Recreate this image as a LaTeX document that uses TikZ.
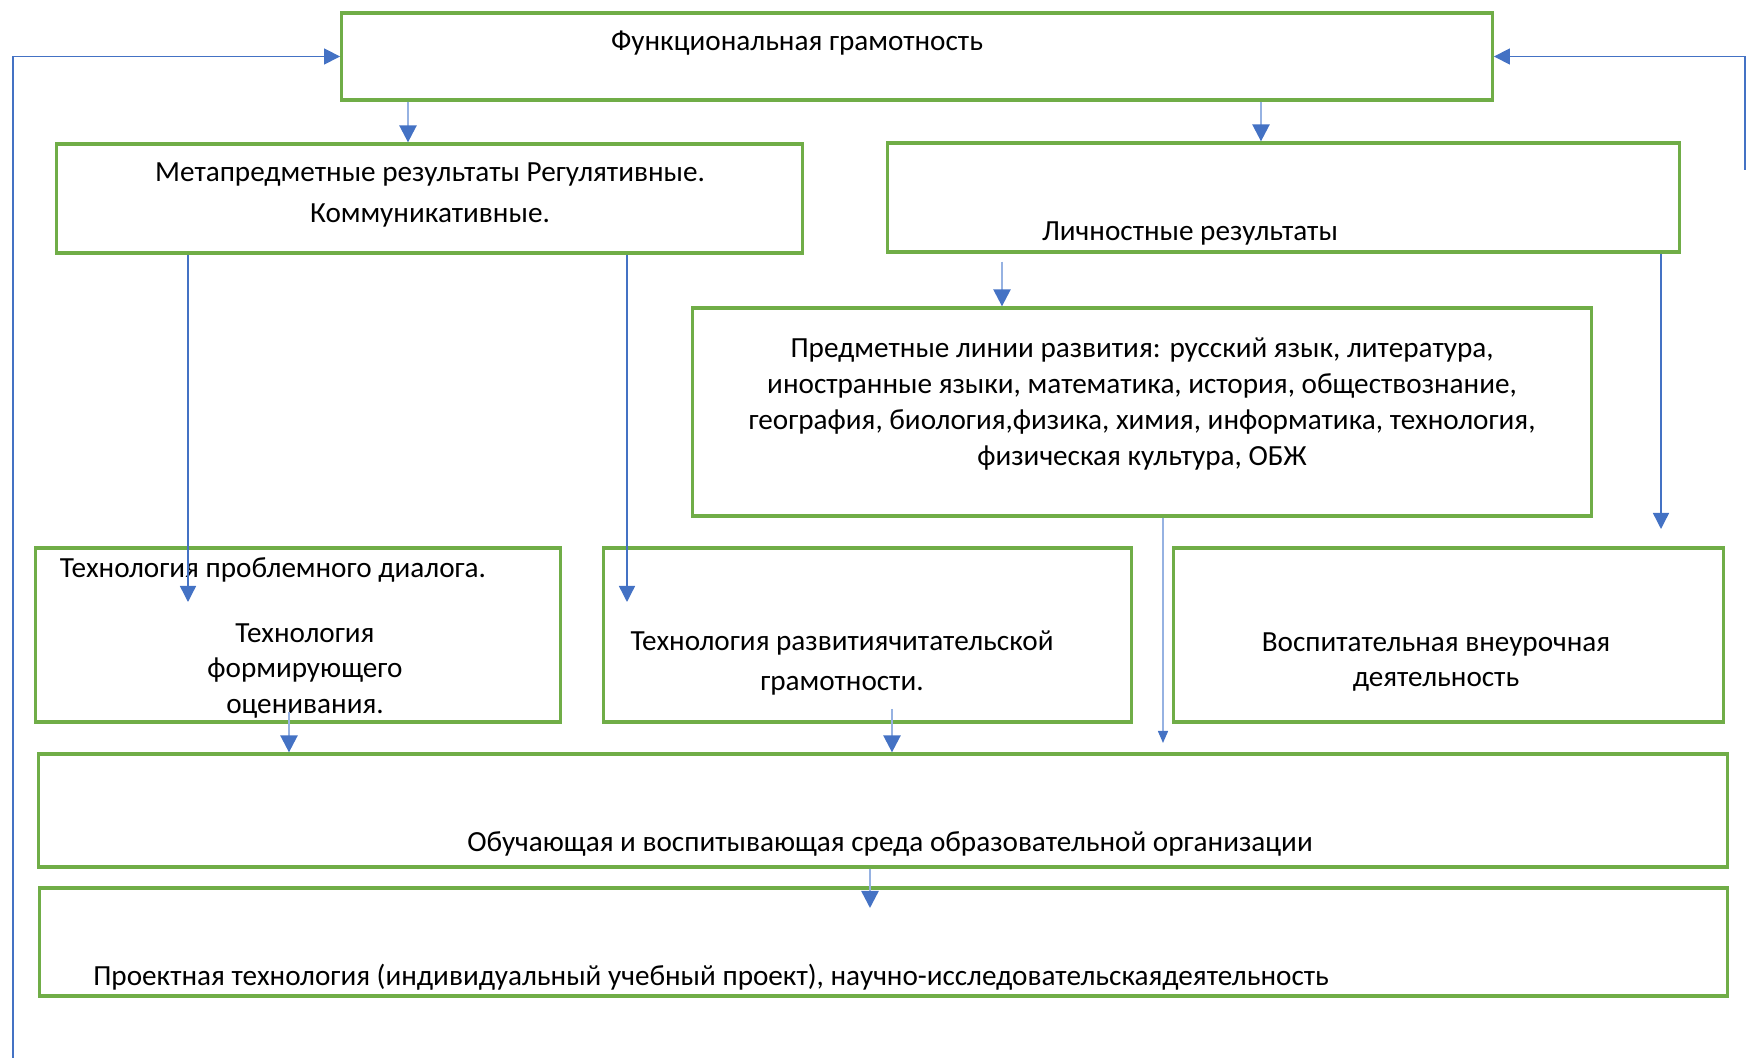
\documentclass[tikz,border=0pt]{standalone}
\usepackage{fontspec}
\setmainfont{Carlito}
\usepackage{xcolor}
\usepackage{tikz}
\usetikzlibrary{positioning, arrows.meta}

\definecolor{boxgreen}{RGB}{112,173,71}
\definecolor{arrowblue}{RGB}{68,114,196}
\definecolor{stemblue}{RGB}{150,178,226}

\tikzset{
  box/.style={draw=boxgreen, line width=0.9pt, inner sep=0pt},
  txt/.style={inner sep=0pt, align=center, font=\fontsize{8.3}{10.2}\selectfont},
  feed/.style={draw=arrowblue, line width=0.4pt, -{Triangle[width=1.6mm, length=1.6mm]}},
  flow/.style={draw=stemblue, line width=0.7pt, -{Triangle[color=arrowblue, width=1.7mm, length=1.7mm]}},
  thinflow/.style={draw=stemblue, line width=0.4pt, -{Triangle[color=arrowblue, width=1.0mm, length=1.2mm]}}
}

\begin{document}
\begin{tikzpicture}[x=0.01cm, y=-0.01cm]
    \useasboundingbox (0,0) rectangle (1747,1058);   % keep the page size
    % boxes
    \node [box, minimum width=11.5cm, minimum height=0.87cm] (top) at (917,56.5) {};
    \node [box, minimum width=7.45cm, minimum height=1.09cm] (meta) at (429.5,198.5) {};
    \node [box, minimum width=7.91cm, minimum height=1.09cm] (lichn) at (1283.5,197.5) {};
    \node [box, minimum width=8.98cm, minimum height=2.08cm] (predmet) at (1142,412) {};
    \node [box, minimum width=5.24cm, minimum height=1.74cm] (tech1) at (298,635) {};
    \node [box, minimum width=5.27cm, minimum height=1.74cm] (tech2) at (867.5,635) {};
    \node [box, minimum width=5.49cm, minimum height=1.74cm] (vosp) at (1448.5,635) {};
    \node [box, minimum width=16.88cm, minimum height=1.13cm] (obuch) at (883,810.5) {};
    \node [box, minimum width=16.87cm, minimum height=1.08cm] (proekt) at (883.5,942) {};
    % texts
    \node [txt] (toptext) at (797,43) {Функциональная грамотность};
    \node [txt] (metatext) at (430,195) {Метапредметные результаты Регулятивные.\\[1.4pt] Коммуникативные.};
    \node [txt] (lichntext) at (1190,233) {Личностные результаты};
    \node [txt] (predmettext) at (1142,404) {Предметные линии развития: русский язык, литература,\\
        иностранные языки, математика, история, обществознание,\\
        география, биология,физика, химия, информатика, технология,\\
        физическая культура, ОБЖ};
    \node [txt] (dialog) at (273,570) {Технология проблемного диалога.};
    \node [txt] (ocenka) at (305,671) {Технология\\ формирующего\\ оценивания.};
    \node [txt] (tech2text) at (842,663) {Технология развитиячитательской\\[1.4pt] грамотности.};
    \node [txt] (vosptext) at (1436,662) {Воспитательная внеурочная\\ деятельность};
    \node [txt] (obuchtext) at (890,844) {Обучающая и воспитывающая среда образовательной организации};
    \node [txt] (proekttext) at (711,977) {Проектная технология (индивидуальный учебный проект), научно-исследовательскаядеятельность};
    % arrow ends
    \coordinate (c1) at (408,0);
    \coordinate (c2) at (1261,0);
    \coordinate (c3) at (1002,0);
    \coordinate (c4) at (188,602);
    \coordinate (c5) at (627,602);
    \coordinate (c6) at (1661,529);
    \coordinate (c7) at (1163,743);
    \coordinate (c8) at (289,712);
    \coordinate (c9) at (892,709);
    \coordinate (c10) at (870,908);
    \coordinate (c11) at (13,1058);
    \coordinate (c12) at (1745,170);
    % connectors
    \draw [flow] (top.south -| c1) -- (meta.north -| c1);
    \draw [flow] (top.south -| c2) -- (lichn.north -| c2);
    \draw [flow, shorten <=0.08cm] (lichn.south -| c3) -- (predmet.north -| c3);
    \draw [feed] (meta.south -| c4) -- (c4);
    \draw [feed] (meta.south -| c5) -- (c5);
    \draw [feed] (lichn.south -| c6) -- (c6);
    \draw [thinflow] (predmet.south -| c7) -- (c7);
    \draw [flow] (c8) -- (obuch.north -| c8);
    \draw [flow] (c9) -- (obuch.north -| c9);
    \draw [flow] (obuch.south -| c10) -- (c10);
    \draw [feed] (c11) |- (top.west);            % left loop back
    \draw [feed] (c12) |- (top.east);            % right loop back
\end{tikzpicture}
\end{document}
